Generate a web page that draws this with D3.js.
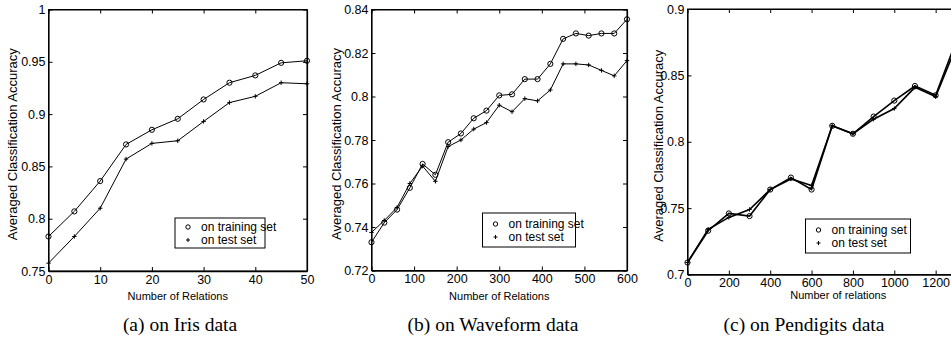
<!DOCTYPE html>
<html>
<head>
<meta charset="utf-8">
<script src="https://cdn.jsdelivr.net/npm/d3@7"></script>
<style>
  body { margin: 0; background: #fff; }
  svg { display: block; }
</style>
</head>
<body>
<div id="box"></div>
<script>
'use strict';

// (a) Iris
var irisX = [0, 5, 10, 15, 20, 25, 30, 35, 40, 45, 50];
var irisTrain = [0.783, 0.807, 0.836, 0.871, 0.885, 0.8955, 0.914, 0.930, 0.937, 0.949, 0.951];
var irisTest = [0.7575, 0.783, 0.810, 0.857, 0.872, 0.8745, 0.893, 0.911, 0.917, 0.930, 0.929];
var irisXTicks = [0, 10, 20, 30, 40, 50];
var irisXLabels = ["0", "10", "20", "30", "40", "50"];
var irisYTicks = [0.75, 0.8, 0.85, 0.9, 0.95, 1];
var irisYLabels = ["0.75", "0.8", "0.85", "0.9", "0.95", "1"];

// (b) Waveform
var waveX = [0, 30, 60, 90, 120, 150, 180, 210, 240, 270, 300, 330, 360, 390, 420, 450, 480, 510, 540, 570, 600];
var waveTrain = [0.733, 0.742, 0.748, 0.758, 0.769, 0.764, 0.779, 0.783, 0.790, 0.7935, 0.8005, 0.801, 0.808, 0.808, 0.815, 0.8265, 0.829, 0.828, 0.829, 0.829, 0.8355];
var waveTest = [0.7375, 0.743, 0.749, 0.760, 0.768, 0.761, 0.777, 0.780, 0.785, 0.788, 0.796, 0.793, 0.799, 0.798, 0.803, 0.815, 0.815, 0.8145, 0.812, 0.8095, 0.8165];
var waveXTicks = [0, 100, 200, 300, 400, 500, 600];
var waveXLabels = ["0", "100", "200", "300", "400", "500", "600"];
var waveYTicks = [0.72, 0.74, 0.76, 0.78, 0.8, 0.82, 0.84];
var waveYLabels = ["0.72", "0.74", "0.76", "0.78", "0.8", "0.82", "0.84"];

// (c) Pendigits
var penX = [0, 100, 200, 300, 400, 500, 600, 700, 800, 900, 1000, 1100, 1200, 1300];
var penTrain = [0.709, 0.733, 0.746, 0.744, 0.764, 0.773, 0.764, 0.812, 0.806, 0.819, 0.831, 0.842, 0.835, 0.876];
var penTest = [0.709, 0.734, 0.743, 0.749, 0.764, 0.772, 0.767, 0.812, 0.806, 0.817, 0.825, 0.841, 0.834, 0.872];
var penXTicks = [0, 200, 400, 600, 800, 1000, 1200];
var penXLabels = ["0", "200", "400", "600", "800", "1000", "1200"];
var penYTicks = [0.7, 0.75, 0.8, 0.85, 0.9];
var penYLabels = ["0.7", "0.75", "0.8", "0.85", "0.9"];

var legendLabels = ["on training set", "on test set"];
var yTitle = "Averaged Classification Accuracy";

var width = 951, height = 345;
var tickFont = "'Liberation Sans Narrow', 'Liberation Sans', Arial, sans-serif";
var labelFont = "'Liberation Sans', Arial, sans-serif";

var svg = d3.select("#box")
  .append("svg")
    .attr("width", width)
    .attr("height", height);

function plusPath(s) {
  return "M" + (-s) + ",0H" + s + "M0," + (-s) + "V" + s;
}

function drawPanel(p) {
  var x = d3.scaleLinear().domain(p.xDomain).range([p.left, p.right]);
  var y = d3.scaleLinear().domain(p.yDomain).range([p.bottom, p.top]);
  var g = svg.append("g");

  // frame
  g.append("rect")
    .attr("x", p.left).attr("y", p.top)
    .attr("width", p.right - p.left).attr("height", p.bottom - p.top)
    .attr("fill", "none").attr("stroke", "#000").attr("stroke-width", 1);

  var bottom = g.append("g")
    .attr("transform", "translate(0," + p.bottom + ")")
    .call(d3.axisBottom(x).tickValues(p.xTicks)
      .tickFormat(function(d, i) { return p.xLabels[i]; })
      .tickSizeInner(-4).tickSizeOuter(0).tickPadding(4));
  var top = g.append("g")
    .attr("transform", "translate(0," + p.top + ")")
    .call(d3.axisTop(x).tickValues(p.xTicks).tickFormat("")
      .tickSizeInner(-4).tickSizeOuter(0));
  var left = g.append("g")
    .attr("transform", "translate(" + p.left + ",0)")
    .call(d3.axisLeft(y).tickValues(p.yTicks)
      .tickFormat(function(d, i) { return p.yLabels[i]; })
      .tickSizeInner(-4).tickSizeOuter(0).tickPadding(3));
  var right = g.append("g")
    .attr("transform", "translate(" + p.right + ",0)")
    .call(d3.axisRight(y).tickValues(p.yTicks).tickFormat("")
      .tickSizeInner(-4).tickSizeOuter(0));

  [bottom, top, left, right].forEach(function(a) {
    a.select(".domain").attr("stroke", "#000").attr("stroke-width", 1.2);
    a.selectAll(".tick line").attr("stroke", "#000");
    a.selectAll("text")
      .attr("fill", "#000")
      .style("font-family", tickFont)
      .style("font-size", "12.5px");
  });
  bottom.select(".domain").attr("stroke-width", 1.6);

  // axis titles
  g.append("text")
    .attr("x", (p.left + p.right) / 2 + p.xTitleShift)
    .attr("y", p.xTitleY)
    .attr("text-anchor", "middle")
    .style("font-family", tickFont)
    .style("font-size", "11px")
    .text(p.xTitle);
  g.append("text")
    .attr("transform", "translate(" + p.yTitleX + "," + ((p.top + p.bottom) / 2 + 4) + ") rotate(-90)")
    .attr("text-anchor", "middle")
    .style("font-family", labelFont)
    .style("font-size", "13px")
    .text(yTitle);

  // caption
  g.append("text")
    .attr("x", p.capX)
    .attr("y", 331)
    .attr("text-anchor", "middle")
    .style("font-family", "'Liberation Serif', 'Times New Roman', serif")
    .style("font-size", "19.5px")
    .text(p.caption);

  // lines
  var series = [p.train, p.test];
  series.forEach(function(vals) {
    g.append("path")
      .datum(vals)
      .attr("fill", "none")
      .attr("stroke", "#000")
      .attr("stroke-width", p.lineWidth)
      .attr("d", d3.line()
        .x(function(d, i) { return x(p.xs[i]); })
        .y(function(d) { return y(d); }));
  });

  // markers
  g.selectAll(null)
    .data(p.train)
    .enter().append("circle")
      .attr("cx", function(d, i) { return x(p.xs[i]); })
      .attr("cy", function(d) { return y(d); })
      .attr("r", 2.6)
      .attr("fill", "none")
      .attr("stroke", "#000")
      .attr("stroke-width", 1);
  g.selectAll(null)
    .data(p.test)
    .enter().append("path")
      .attr("transform", function(d, i) { return "translate(" + x(p.xs[i]) + "," + y(d) + ")"; })
      .attr("d", plusPath(2.2))
      .attr("stroke", "#000")
      .attr("stroke-width", 1);

  // legend
  var lg = g.append("g").attr("transform", "translate(" + p.legend[0] + "," + p.legend[1] + ")");
  lg.append("rect")
    .attr("width", p.legend[2]).attr("height", p.legend[3])
    .attr("fill", "#fff").attr("stroke", "#000").attr("stroke-width", 1);
  lg.append("circle")
    .attr("cx", 13).attr("cy", p.legend[3] / 2 - 6).attr("r", 2.2)
    .attr("fill", "none").attr("stroke", "#000");
  lg.append("path")
    .attr("transform", "translate(13," + (p.legend[3] / 2 + 7) + ")")
    .attr("d", plusPath(2))
    .attr("stroke", "#000");
  legendLabels.forEach(function(t, i) {
    lg.append("text")
      .attr("x", 26)
      .attr("y", p.legend[3] / 2 - 2 + i * 13)
      .style("font-family", tickFont)
      .style("font-size", "12px")
      .text(t);
  });
}

drawPanel({
  xs: irisX, train: irisTrain, test: irisTest,
  xDomain: [0, 50], yDomain: [0.75, 1],
  xTicks: irisXTicks, xLabels: irisXLabels, yTicks: irisYTicks, yLabels: irisYLabels,
  left: 48.5, right: 307, top: 9.5, bottom: 271,
  xTitle: "Number of Relations", xTitleY: 300, xTitleShift: 0, yTitleX: 17,
  caption: "(a)  on Iris data", capX: 180,
  legend: [175, 218, 90, 30], lineWidth: 1
});
drawPanel({
  xs: waveX, train: waveTrain, test: waveTest,
  xDomain: [0, 600], yDomain: [0.72, 0.84],
  xTicks: waveXTicks, xLabels: waveXLabels, yTicks: waveYTicks, yLabels: waveYLabels,
  left: 371.5, right: 627, top: 9.5, bottom: 270.5,
  xTitle: "Number of Relations", xTitleY: 300, xTitleShift: 0, yTitleX: 341,
  caption: "(b)  on Waveform data", capX: 493,
  legend: [482.5, 213, 93, 34], lineWidth: 1
});
drawPanel({
  xs: penX, train: penTrain, test: penTest,
  xDomain: [0, 1400], yDomain: [0.7, 0.9],
  xTicks: penXTicks, xLabels: penXLabels, yTicks: penYTicks, yLabels: penYLabels,
  left: 687.5, right: 977, top: 9, bottom: 274.5,
  xTitle: "Number of relations", xTitleY: 299, xTitleShift: 6, yTitleX: 663,
  caption: "(c)  on Pendigits data", capX: 804,
  legend: [805.5, 219, 105, 34], lineWidth: 1.6
});
</script>
</body>
</html>
